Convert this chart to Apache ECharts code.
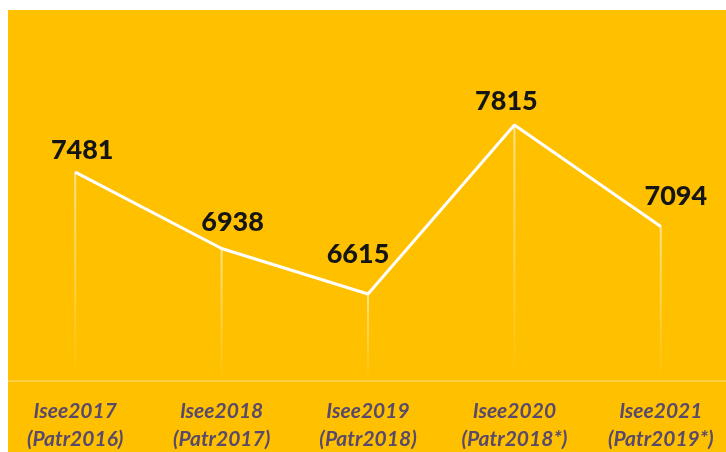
<!DOCTYPE html>
<html>
<head>
<meta charset="utf-8">
<script src="https://cdn.jsdelivr.net/npm/echarts@6/dist/echarts.min.js"></script>
<style>
  html, body { margin: 0; padding: 0; background: #ffffff; }
  #wrap { position: relative; width: 726px; height: 452px; background: #ffffff; overflow: hidden; }
  #myChart { position: absolute; left: 2px; top: 10px; width: 732px; height: 442px; }
  #edge { position: absolute; left: 0; top: 0; width: 8px; height: 452px; background: #ffffff; z-index: 5; }
</style>
</head>
<body>
<div id="wrap"><div id="myChart"></div><div id="edge"></div></div>
<script>
  // dati
  var categories = ['Isee2017\n(Patr2016)', 'Isee2018\n(Patr2017)', 'Isee2019\n(Patr2018)', 'Isee2020\n(Patr2018*)', 'Isee2021\n(Patr2019*)'];
  var values = [7481, 6938, 6615, 7815, 7094];
  var axisMin = 6000;
  var axisMax = 8500;

  // spostamento etichette come nell'originale
  var labelOffsets = [[7, -3], [11, -7], [-10, -21], [-8, -5], [15, -11]];

  var lineData = values.map(function (v, i) {
    return { value: v, label: { offset: labelOffsets[i] } };
  });
  var baseData = values.map(function () { return axisMin; });
  var dropData = values.map(function (v) { return v - axisMin; });

  var myChart = echarts.init(document.getElementById('myChart'));
  myChart.setOption({
    backgroundColor: '#FFC000',
    animation: false,
    grid: { left: 0, right: 0, top: 18.6, bottom: 71.4, outerBoundsMode: 'none' },
    xAxis: {
      type: 'category',
      data: categories,
      boundaryGap: true,
      axisTick: { show: false },
      axisLine: { show: true, lineStyle: { color: 'rgba(255,255,255,0.35)', width: 1.5 } },
      axisLabel: {
        interval: 0,
        margin: 17,
        color: '#594A6B',
        fontFamily: 'Lato',
        fontStyle: 'italic',
        fontWeight: 'bold',
        fontSize: 21,
        lineHeight: 28
      }
    },
    yAxis: {
      type: 'value',
      min: axisMin,
      max: axisMax,
      show: false,
      splitLine: { show: false }
    },
    series: [
      {
        type: 'bar',
        stack: 'drop',
        data: baseData,
        barWidth: 2,
        itemStyle: { color: 'rgba(0,0,0,0)' },
        silent: true
      },
      {
        type: 'bar',
        stack: 'drop',
        data: dropData,
        barWidth: 2,
        itemStyle: {
          color: new echarts.graphic.LinearGradient(0, 0, 0, 1, [
            { offset: 0, color: 'rgba(255,255,255,0.55)' },
            { offset: 1, color: 'rgba(255,255,255,0)' }
          ])
        },
        silent: true
      },
      {
        type: 'line',
        data: lineData,
        symbol: 'circle',
        symbolSize: 1,
        showSymbol: true,
        itemStyle: { color: '#FFFFFF' },
        lineStyle: { color: '#FFFFFF', width: 3 },
        label: {
          show: true,
          position: 'top',
          color: '#151515',
          fontFamily: 'Lato',
          fontWeight: 900,
          fontSize: 27
        }
      }
    ]
  });
</script>
</body>
</html>
